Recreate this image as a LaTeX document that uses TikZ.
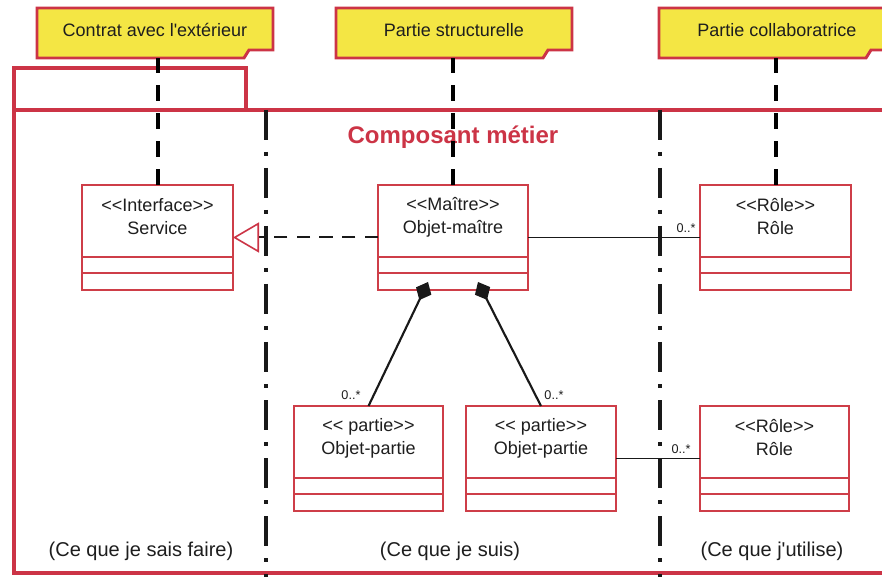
\documentclass[tikz,border=0pt]{standalone}
\usepackage{fontspec}
\setmainfont{Liberation Sans}
\usetikzlibrary{arrows.meta,calc}
\definecolor{pkred}{RGB}{204,52,70}
\definecolor{clsred}{RGB}{206,62,72}
\definecolor{noteyel}{RGB}{244,230,68}
\definecolor{txt}{RGB}{30,30,30}
\newcommand\umlcls[6]{%
  \node[clsbox, minimum width=#4*0.75pt, anchor=north] (#1) at (#2,#3) {};
  \node[clstext] (#1-txt) at ([yshift=-32*0.75pt]#1.north) {#5\\#6};
  \draw[clsline] ([yshift=-72*0.75pt]#1.north west) -- ([yshift=-72*0.75pt]#1.north east);
  \draw[clsline] ([yshift=-88*0.75pt]#1.north west) -- ([yshift=-88*0.75pt]#1.north east);
}
\newcommand\notebox[3]{%
  \node[noteshape] (#1) at (#2,33) {};
  \draw[note] (#1.north west) -- (#1.north east) -- ([yshift=8*0.75pt]#1.south east)
    -- ([xshift=-24*0.75pt,yshift=8*0.75pt]#1.south east)
    -- ([xshift=-29*0.75pt]#1.south east) -- (#1.south west) -- cycle;
  \node[notetext] (#1-txt) at ([yshift=3*0.75pt]#1.center) {#3};
}
\newcommand\LL{<\kern0pt<}
\newcommand\GG{>\kern0pt>}
\tikzset{
  pkg/.style={draw=pkred, line width=3pt},
  noteshape/.style={minimum width=236*0.75pt, minimum height=50*0.75pt, inner sep=0pt, outer sep=0pt},
  note/.style={fill=noteyel, draw=pkred, line width=2.2pt, line join=miter},
  notetext/.style={font=\fontsize{13.5}{16}\selectfont, text=txt},
  notelink/.style={draw=black, line width=3pt, dash pattern=on 12pt off 9pt},
  sepline/.style={draw=black!90, line width=3pt, dash pattern=on 22.5pt off 9pt on 3pt off 9pt},
  clsbox/.style={draw=clsred, line width=1.1pt, fill=white, minimum height=105*0.75pt, outer sep=0pt, inner sep=0pt},
  clsline/.style={draw=clsred, line width=1.1pt},
  clstext/.style={font=\fontsize{13.5}{17.25}\selectfont, text=txt, align=center},
  mult/.style={font=\fontsize{9.5}{10}\selectfont, text=txt},
  assoc/.style={draw=black!90, line width=1.4pt},
  comp/.style={draw=black!90, line width=1.6pt, {Diamond[length=20*0.75pt, width=17*0.75pt]}-},
  real/.style={draw=black!90, line width=1.5pt, dash pattern=on 10pt off 7pt,
    -{Triangle[open, length=26*0.75pt, width=30*0.75pt, color=pkred, line width=1.2pt]}},
  bottomlab/.style={font=\fontsize{15}{18}\selectfont, text=txt},
}
\begin{document}
\begin{tikzpicture}[x=0.75pt, y=-0.75pt]
\useasboundingbox (0,0) rectangle (882,577);
\clip (0,0) rectangle (882,577);
\fill[white] (0,0) rectangle (882,577);

% package outline
\draw[pkg] (14,110) -- (14,68) -- (246,68) -- (246,110);
\draw[pkg] (900,110) -- (14,110) -- (14,573) -- (900,573);

% title
\node[font=\bfseries\fontsize{18}{20}\selectfont, text=pkred] (title) at (453,137) {Composant métier};

% notes
\notebox{n1}{155}{Contrat avec l\textquotesingle extérieur}
\notebox{n2}{454}{Partie structurelle}
\notebox{n3}{777}{Partie collaboratrice}

% classes
\umlcls{svc}{157.5}{185}{151}{\LL Interface\GG}{Service}
\umlcls{mtr}{453}{185}{150}{\LL Maître\GG}{Objet-maître}
\umlcls{r1}{775.5}{185}{151}{\LL Rôle\GG}{Rôle}
\umlcls{p1}{368.5}{406}{149}{\LL\ partie\GG}{Objet-partie}
\umlcls{p2}{541}{406}{150}{\LL\ partie\GG}{Objet-partie}
\umlcls{r2}{774.5}{406}{149}{\LL Rôle\GG}{Rôle}

% separators
\coordinate (s1t) at (266,110);
\coordinate (s1b) at (266,590);
\coordinate (s2t) at (660,110);
\coordinate (s2b) at (660,590);
\draw[sepline] (s1t) -- (s1b);
\draw[sepline] (s2t) -- (s2b);

% note links
\draw[notelink] (svc.north) -- (svc.north |- n1.south);
\draw[notelink] (mtr.north) -- (mtr.north |- n2.south);
\draw[notelink] (r1.north) -- (r1.north |- n3.south);

% connectors
\draw[real] (mtr.west) -- (svc.east);
\draw[assoc] (mtr.east) -- (r1.west);
\draw[assoc] (p2.east) -- (r2.west);
\draw[comp] ($(mtr.south)+(-25,-8)$) -- (p1.north);
\draw[comp] ($(mtr.south)+(25,-8)$) -- (p2.north);

% multiplicities
\node[mult] (m1) at (686,228) {0..*};
\node[mult] (m2) at (681,449) {0..*};
\node[mult] (m3) at (351,395) {0..*};
\node[mult] (m4) at (554,395) {0..*};

% bottom labels
\node[bottomlab] (b1) at (141,551) {(Ce que je sais faire)};
\node[bottomlab] (b2) at (450,551) {(Ce que je suis)};
\node[bottomlab] (b3) at (772,551) {(Ce que j\textquotesingle utilise)};
\end{tikzpicture}
\end{document}
